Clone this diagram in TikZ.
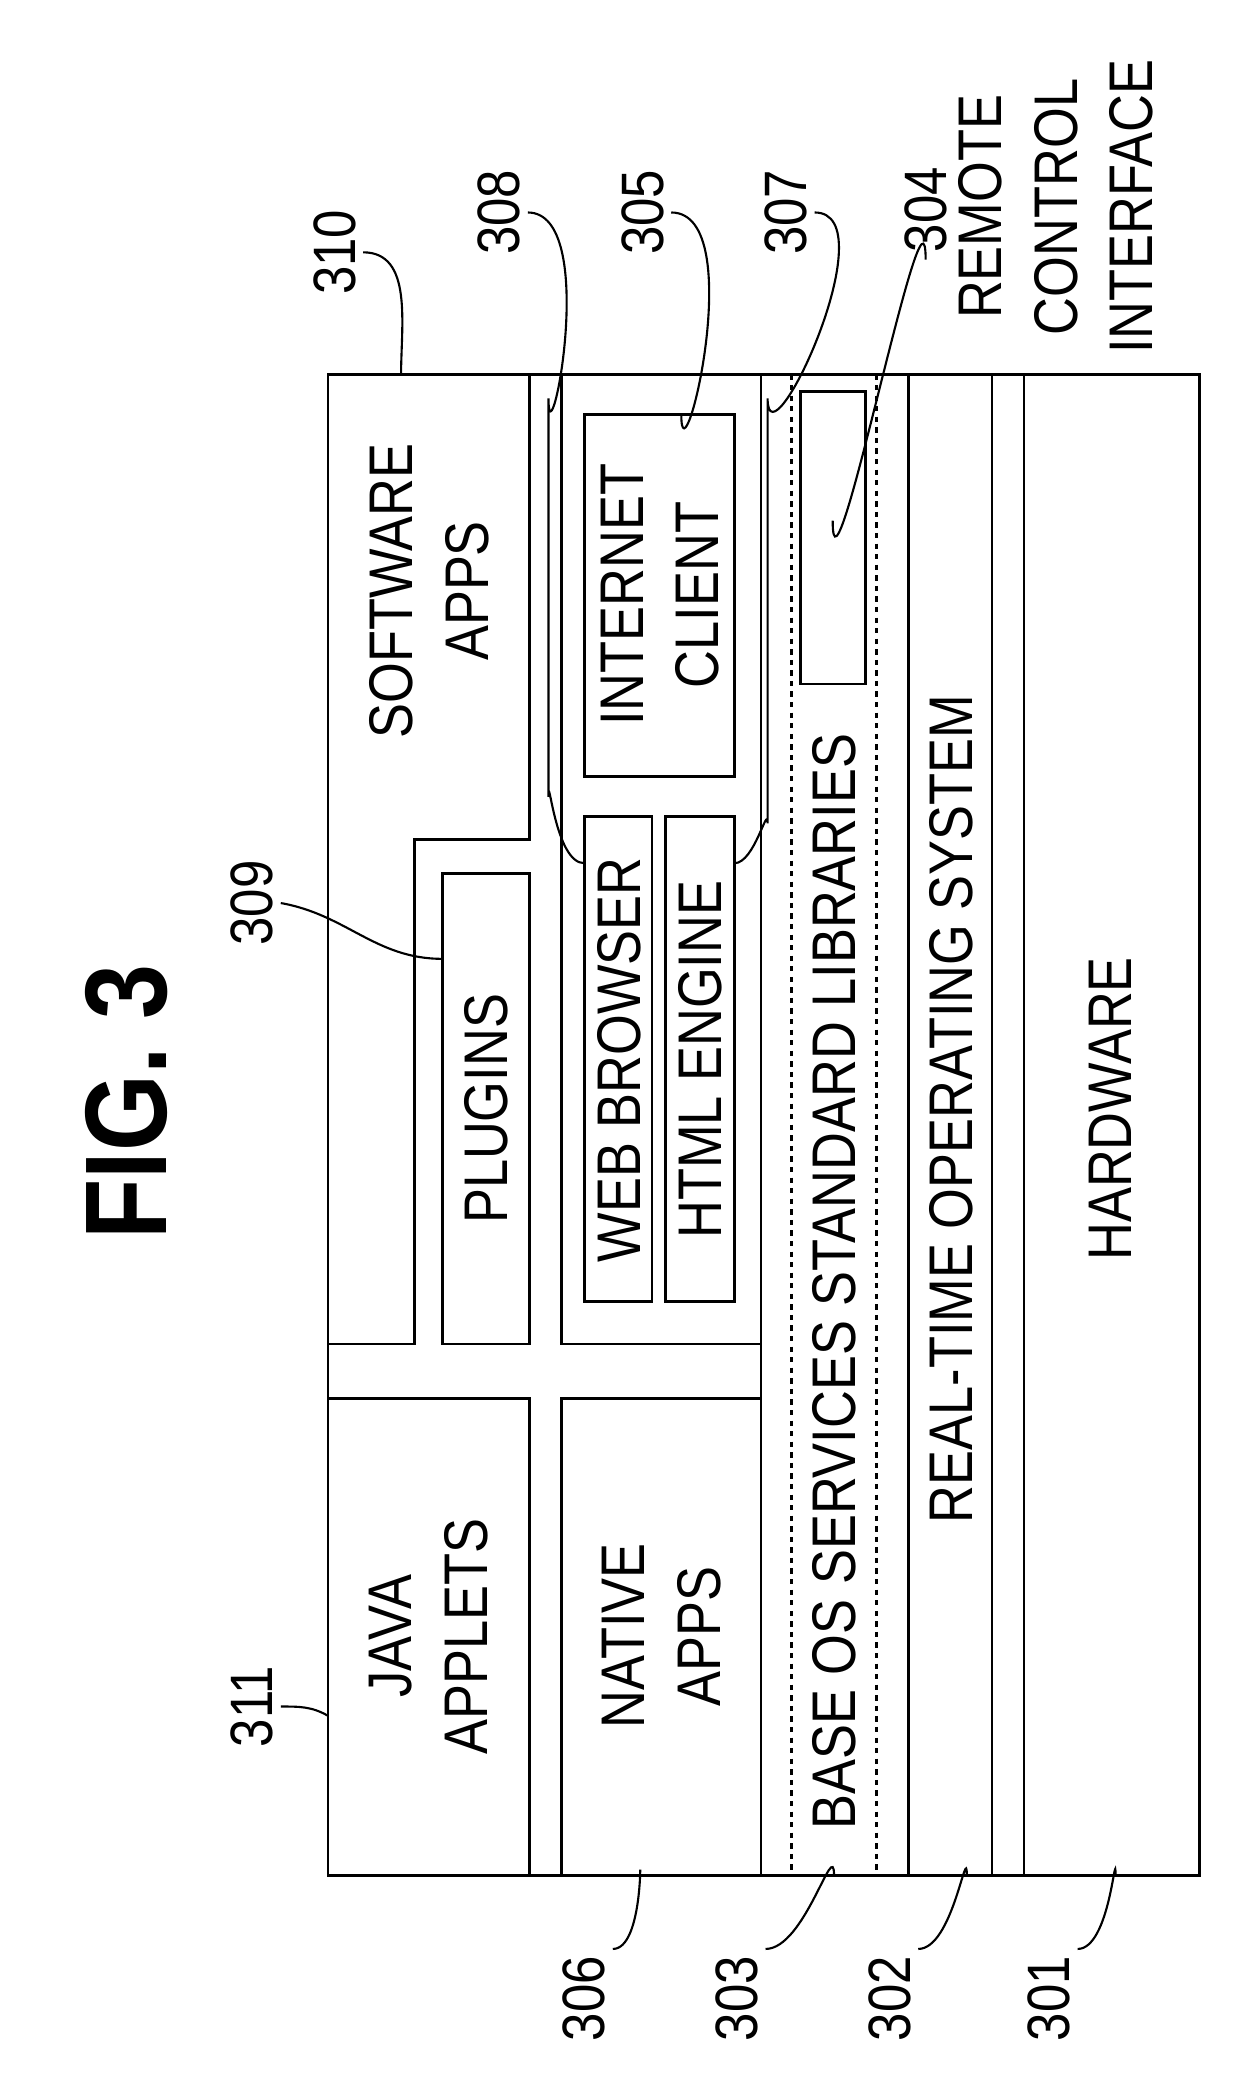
\documentclass[tikz,border=0pt]{standalone}
\usepackage{fontspec}
\setmainfont{Liberation Sans}[FakeStretch=0.85]
\begin{document}
\begin{tikzpicture}[x=0.0265cm,y=-0.0265cm,line width=1.6pt,
  lbl/.style={rotate=90,align=center,font=\fontsize{35}{43}\selectfont},
  refno/.style={rotate=90,font=\fontsize{34}{40}\selectfont},
  lead/.style={line width=1.2pt}]
  \useasboundingbox (0,0) rectangle (940,1570);

  %% title
  \node[rotate=90,font=\bfseries\fontsize{66}{70}\selectfont] (fig) at (95,830) {FIG. 3};

  %% outer frame and layer lines
  \draw (247,282) rectangle (903,1412);
  \draw (573,282) -- (573,1412);
  \draw (684,282) -- (684,1412);
  \draw (747,282) -- (747,1412);
  \draw (771,282) -- (771,1412);
  \draw[dashed,line width=1.2pt] (596,282) -- (596,1412);
  \draw[dashed,line width=1.2pt] (660,282) -- (660,1412);

  %% application boxes
  \draw (399,282) -- (399,632) -- (312,632) -- (312,1012) -- (247,1012);
  \draw (333,658) rectangle (399,1012);
  \draw (247,1053) rectangle (399,1412);
  \draw (423,1053) rectangle (573,1412);
  \draw (423,282) -- (423,1012) -- (573,1012);
  \draw (440,312) rectangle (553,585);
  \draw (440,615) rectangle (491,980);
  \draw (501,615) rectangle (553,980);
  \draw (603,295) rectangle (652,515);

  %% layer texts
  \node[lbl] (soft) at (323,445) {SOFTWARE\\APPS};
  \node[lbl] (plug) at (366,835) {PLUGINS};
  \node[lbl] (java) at (323,1232) {JAVA\\APPLETS};
  \node[lbl] (native) at (498,1232) {NATIVE\\APPS};
  \node[lbl] (inet) at (497,448) {INTERNET\\CLIENT};
  \node[lbl] (web) at (466,798) {WEB BROWSER};
  \node[lbl] (html) at (527,798) {HTML ENGINE};
  \node[lbl] (base) at (628,965) {BASE OS SERVICES STANDARD LIBRARIES};
  \node[lbl] (rtos) at (716,835) {REAL-TIME OPERATING SYSTEM};
  \node[lbl] (hw) at (836,835) {HARDWARE};
  \node[lbl,anchor=west] (rci) at (795,272) {REMOTE\\CONTROL\\INTERFACE};

  %% reference numbers
  \node[refno] (n310) at (252,190) {310};
  \node[refno] (n311) at (190,1285) {311};
  \node[refno] (n309) at (190,680) {309};
  \node[refno] (n308) at (376,160) {308};
  \node[refno] (n305) at (484,160) {305};
  \node[refno] (n307) at (592,160) {307};
  \node[refno] (n304) at (697,158) {304};
  \node[refno] (n306) at (440,1505) {306};
  \node[refno] (n303) at (555,1505) {303};
  \node[refno] (n302) at (670,1505) {302};
  \node[refno] (n301) at (790,1505) {301};

  %% leaders
  \draw[lead] (n310.south) to[out=0,in=90] (302,282);
  \draw[lead] (n311.south) to[out=0,in=150] (247,1292);
  \draw[lead] (n309.south) to[out=-10,in=180] (333,722);
  \draw[lead] (n308.south) to[out=0,in=-90] (413,300) -- (413,600) to[out=90,in=180] (440,650);
  \draw[lead] (n305.south) to[out=0,in=-90] (513,312);
  \draw[lead] (n307.south) to[out=0,in=-90] (578,300) -- (578,620) to[out=90,in=0] (553,650);
  \draw[lead] (n304.west) to[out=90,in=-90] (627,392);
  \draw[lead] (n306.south east) to[out=0,in=90] (482,1412);
  \draw[lead] (n303.south east) to[out=0,in=90] (628,1412);
  \draw[lead] (n302.south east) to[out=0,in=90] (728,1412);
  \draw[lead] (n301.south east) to[out=0,in=90] (840,1412);
\end{tikzpicture}
\end{document}
